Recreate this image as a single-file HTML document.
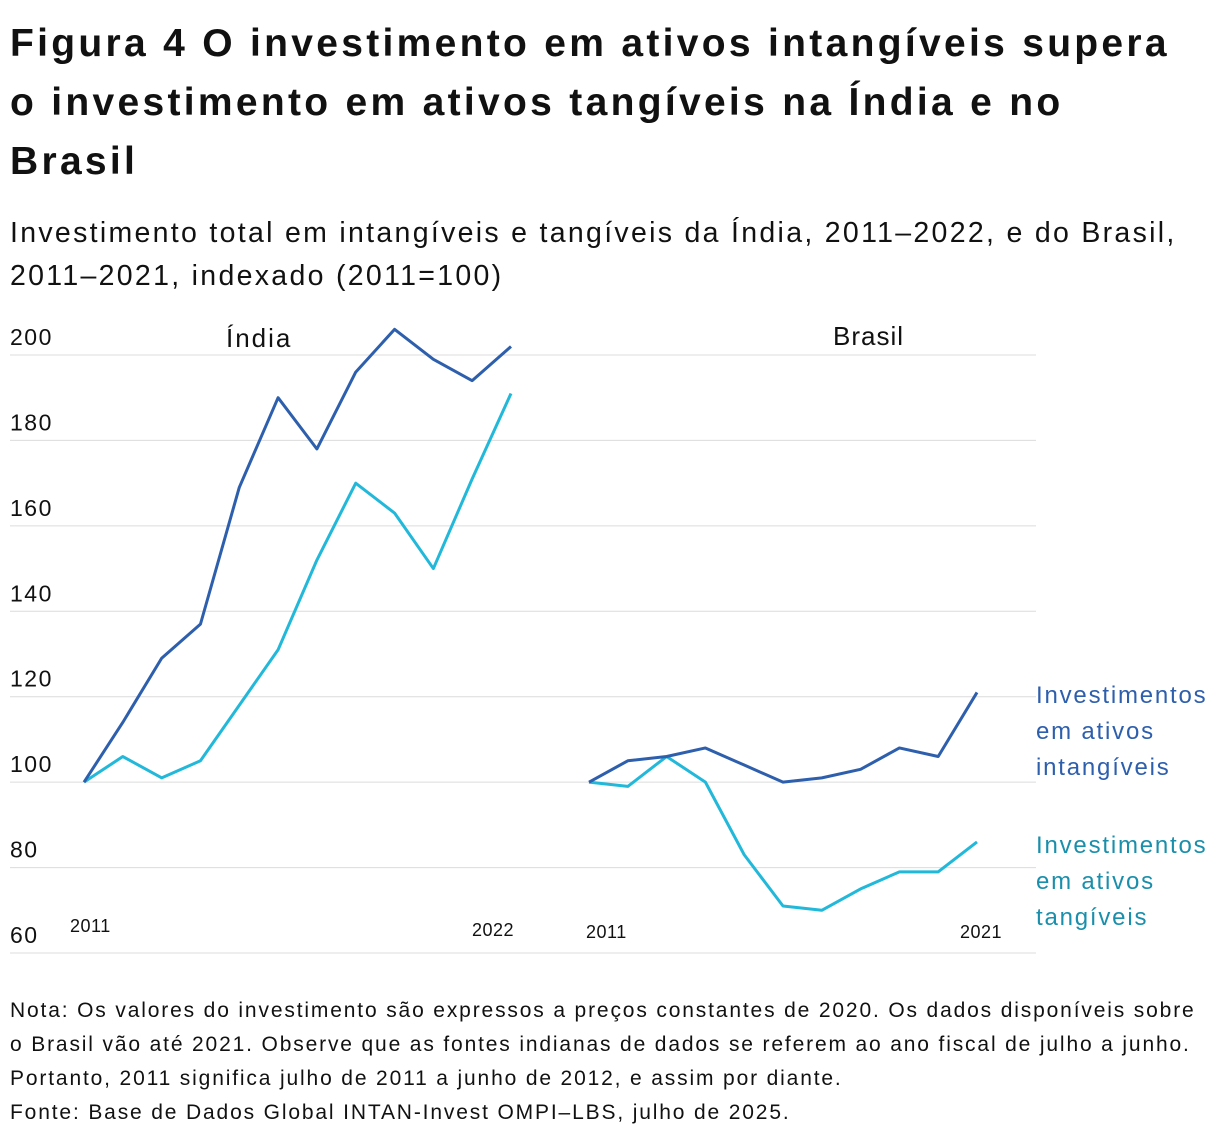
<!DOCTYPE html>
<html><head><meta charset="utf-8">
<style>
body{margin:0;background:#fff;width:1220px;height:1142px;overflow:hidden;font-family:"Liberation Sans",sans-serif;color:#111}
h1{position:absolute;left:10px;top:14px;margin:0;font-size:39px;line-height:59px;font-weight:bold;white-space:nowrap;letter-spacing:3.3px}
.sub{position:absolute;left:10px;top:212px;font-size:28.5px;line-height:43px;white-space:nowrap;letter-spacing:2.3px}
.note{position:absolute;left:10px;top:994px;font-size:21px;line-height:34px;white-space:nowrap;letter-spacing:1.85px}
svg{position:absolute;left:0;top:0}
</style></head><body>
<h1>Figura 4 O investimento em ativos intangíveis supera<br>o investimento em ativos tangíveis na Índia e no<br>Brasil</h1>
<div class="sub">Investimento total em intangíveis e tangíveis da Índia, 2011–2022, e do Brasil,<br>2011–2021, indexado (2011=100)</div>
<svg id="chart" width="1220" height="1142"></svg>
<div class="note">Nota: Os valores do investimento são expressos a preços constantes de 2020. Os dados disponíveis sobre<br>o Brasil vão até 2021. Observe que as fontes indianas de dados se referem ao ano fiscal de julho a junho.<br>Portanto, 2011 significa julho de 2011 a junho de 2012, e assim por diante.<br>Fonte: Base de Dados Global INTAN-Invest OMPI–LBS, julho de 2025.</div>
<script>
const yTicks=[60,80,100,120,140,160,180,200];
const indiaIntang=[100,114,129,137,169,190,178,196,206,199,194,202];
const indiaTang=[100,106,101,105,118,131,152,170,163,150,171,191];
const brasilIntang=[100,105,106,108,104,100,101,103,108,106,121];
const brasilTang=[100,99,106,100,83,71,70,75,79,79,86];
const NS="http://www.w3.org/2000/svg";
const svg=document.getElementById('chart');
function y(v){return 953-(v-60)*(953-355)/140;}
function xI(i){return 84+i*(511-84)/11;}
function xB(i){return 589+i*(977-589)/10;}
function mk(t,a){const e=document.createElementNS(NS,t);for(const k in a)e.setAttribute(k,a[k]);svg.appendChild(e);return e;}
yTicks.forEach(v=>{
  const l=mk('line',{x1:10,x2:1036,y1:y(v),y2:y(v),stroke:'#dcdcdc','stroke-width':1});
  
  
  const t=mk('text',{x:10,y:y(v)-10,'font-size':23,fill:'#111','letter-spacing':1.5});
  t.textContent=v;
  
  
});
function line(arr,xf,col,name){
  const p=mk('polyline',{points:arr.map((v,i)=>xf(i)+','+y(v)).join(' '),fill:'none',stroke:col,'stroke-width':3,'stroke-linejoin':'round'});
  
  
}
line(indiaTang,xI,'#22b8d9','india-tangible-line');
line(indiaIntang,xI,'#2d5fad','india-intangible-line');
line(brasilTang,xB,'#22b8d9','brasil-tangible-line');
line(brasilIntang,xB,'#2d5fad','brasil-intangible-line');
function txt(x,yy,s,size,col,name,ls){
  const t=mk('text',{x:x,y:yy,'font-size':size,fill:col,'letter-spacing':ls||0});
  t.textContent=s;
  
  
}
txt(226,347,'Índia',26,'#111','india-panel-label',2);
txt(833,345,'Brasil',26,'#111','brasil-panel-label',1);
txt(70,932,'2011',18,'#111','india-x-start',0.5);
txt(472,936,'2022',18,'#111','india-x-end',0.5);
txt(586,938,'2011',18,'#111','brasil-x-start',0.5);
txt(960,938,'2021',18,'#111','brasil-x-end',0.5);
[['Investimentos',703],['em ativos',739],['intangíveis',775]].forEach((r,i)=>txt(1036,r[1],r[0],24,'#2d5fad','legend-intangible-'+i,1.8));
[['Investimentos',853],['em ativos',889],['tangíveis',925]].forEach((r,i)=>txt(1036,r[1],r[0],24,'#1a8fab','legend-tangible-'+i,1.8));
</script>
</body></html>
